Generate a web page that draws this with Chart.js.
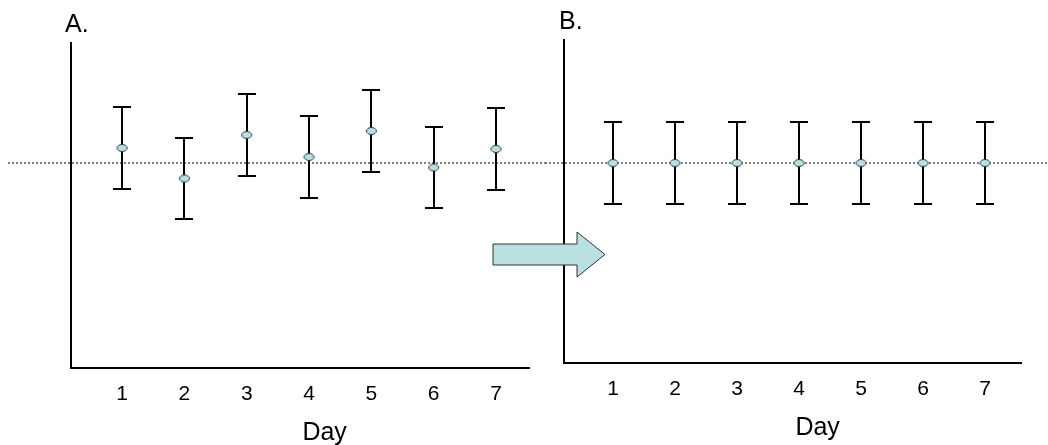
<!DOCTYPE html>
<html>
<head>
<meta charset="utf-8">
<script src="https://cdn.jsdelivr.net/npm/chart.js@4"></script>
<style>
  body { margin: 0; background: #fff; }
  #wrap { position: relative; width: 1048px; height: 445px; overflow: hidden; }
  canvas { position: absolute; top: 0; }
  #chartA { left: 0; }
  #chartB { left: 545px; }
  #arrow { position: absolute; left: 0; top: 0; }
</style>
</head>
<body>
<div id="wrap">
  <canvas id="chartA" width="545" height="460"></canvas>
  <canvas id="chartB" width="503" height="460"></canvas>
  <svg id="arrow" width="1048" height="445">
    <polygon points="493,244 577,244 577,232 605,254.5 577,277 577,265 493,265"
      fill="#b9dfe0" stroke="#333" stroke-width="1"/>
  </svg>
</div>
<script>
const days = [1, 2, 3, 4, 5, 6, 7]
const dayLabels = ['1', '2', '3', '4', '5', '6', '7']
const meansA = [11.5, 8.45, 12.8, 10.6, 13.2, 9.55, 11.4]
const errorsA = [4.1, 4.05, 4.1, 4.1, 4.1, 4.05, 4.1]
const meansB = [10, 10, 10, 10, 10, 10, 10]
const errorsB = [4.1, 4.1, 4.1, 4.1, 4.1, 4.1, 4.1]
const referenceLevel = 10
const xTitle = 'Day'

// small oval marker
const dot = document.createElement('canvas')
dot.width = 13; dot.height = 10
{
  const c = dot.getContext('2d')
  c.beginPath()
  c.ellipse(6.5, 5, 5, 3.5, 0, 0, Math.PI * 2)
  c.fillStyle = '#b9dfe0'
  c.fill()
  c.lineWidth = 1
  c.strokeStyle = '#2a3a3a'
  c.stroke()
}

// dotted reference line + whiskers under the points, axis title after
const errorBars = {
  id: 'errorBars',
  beforeDatasetsDraw(chart, args, opts) {
    const { ctx, scales: { x, y } } = chart
    ctx.save()
    const ry = y.getPixelForValue(referenceLevel)
    ctx.setLineDash([2, 2])
    ctx.strokeStyle = '#555'
    ctx.lineWidth = 1.5
    ctx.beginPath()
    ctx.moveTo(opts.lineStart, ry)
    ctx.lineTo(chart.width, ry)
    ctx.stroke()
    ctx.setLineDash([])
    ctx.strokeStyle = '#000'
    ctx.lineWidth = 2
    chart.data.datasets[0].data.forEach(p => {
      const px = Math.round(x.getPixelForValue(p.x))
      const top = y.getPixelForValue(p.y + p.err)
      const bot = y.getPixelForValue(p.y - p.err)
      ctx.beginPath()
      ctx.moveTo(px, top); ctx.lineTo(px, bot)
      ctx.moveTo(px - 9, top); ctx.lineTo(px + 9, top)
      ctx.moveTo(px - 9, bot); ctx.lineTo(px + 9, bot)
      ctx.stroke()
    })
    ctx.restore()
  },
  afterDraw(chart, args, opts) {
    const { ctx, scales: { x } } = chart
    ctx.save()
    ctx.font = '25px "Liberation Sans"'
    ctx.fillStyle = '#000'
    ctx.textAlign = 'center'
    ctx.textBaseline = 'alphabetic'
    ctx.fillText(xTitle, x.getPixelForValue(opts.titleAt), opts.titleY)
    ctx.restore()
  }
}

function makeChart(id, title, means, errors, cfg) {
  return new Chart(document.getElementById(id), {
    type: 'scatter',
    data: {
      datasets: [{
        data: days.map((d, i) => ({ x: d, y: means[i], err: errors[i] })),
        pointStyle: dot,
        pointRadius: 5
      }]
    },
    options: {
      responsive: false,
      animation: false,
      layout: { padding: { left: cfg.padLeft, right: cfg.padRight, top: 0, bottom: 0 } },
      plugins: {
        legend: { display: false },
        tooltip: { enabled: false },
        title: {
          display: true,
          text: title,
          align: 'start',
          color: '#000',
          font: { family: 'Liberation Sans', size: 25, weight: 'normal' },
          padding: cfg.titlePad
        },
        errorBars: { lineStart: cfg.lineStart, titleAt: cfg.titleAt, titleY: cfg.titleY }
      },
      scales: {
        x: {
          type: 'linear',
          min: cfg.xMin, max: cfg.xMax,
          afterFit: s => { s.height = cfg.xHeight },
          afterBuildTicks: s => { s.ticks = days.map(v => ({ value: v })) },
          ticks: {
            color: '#000',
            padding: 14,
            font: { family: 'Liberation Sans', size: 21 },
            callback: v => dayLabels[days.indexOf(v)]
          },
          grid: { display: false, drawTicks: false },
          border: { color: '#000', width: 2 }
        },
        y: {
          min: cfg.yMin, max: cfg.yMax,
          afterFit: s => { s.width = cfg.yWidth },
          ticks: { display: false },
          grid: { display: false, drawTicks: false },
          border: { color: '#000', width: 2 }
        }
      }
    },
    plugins: [errorBars]
  })
}

makeChart('chartA', 'A.', meansA, errorsA, {
  padLeft: 65, padRight: 16, yWidth: 6, xHeight: 92,
  titlePad: { top: 10, bottom: 3 },
  xMin: 0.18, xMax: 7.53, yMin: -10.5, yMax: 22, lineStart: 8,
  titleAt: 4.25, titleY: 440
})
makeChart('chartB', 'B.', meansB, errorsB, {
  padLeft: 14, padRight: 27, yWidth: 5, xHeight: 97,
  titlePad: { top: 7, bottom: 3 },
  xMin: 0.21, xMax: 7.58, yMin: -10, yMax: 22.3, lineStart: 0,
  titleAt: 4.3, titleY: 435
})
</script>
</body>
</html>
